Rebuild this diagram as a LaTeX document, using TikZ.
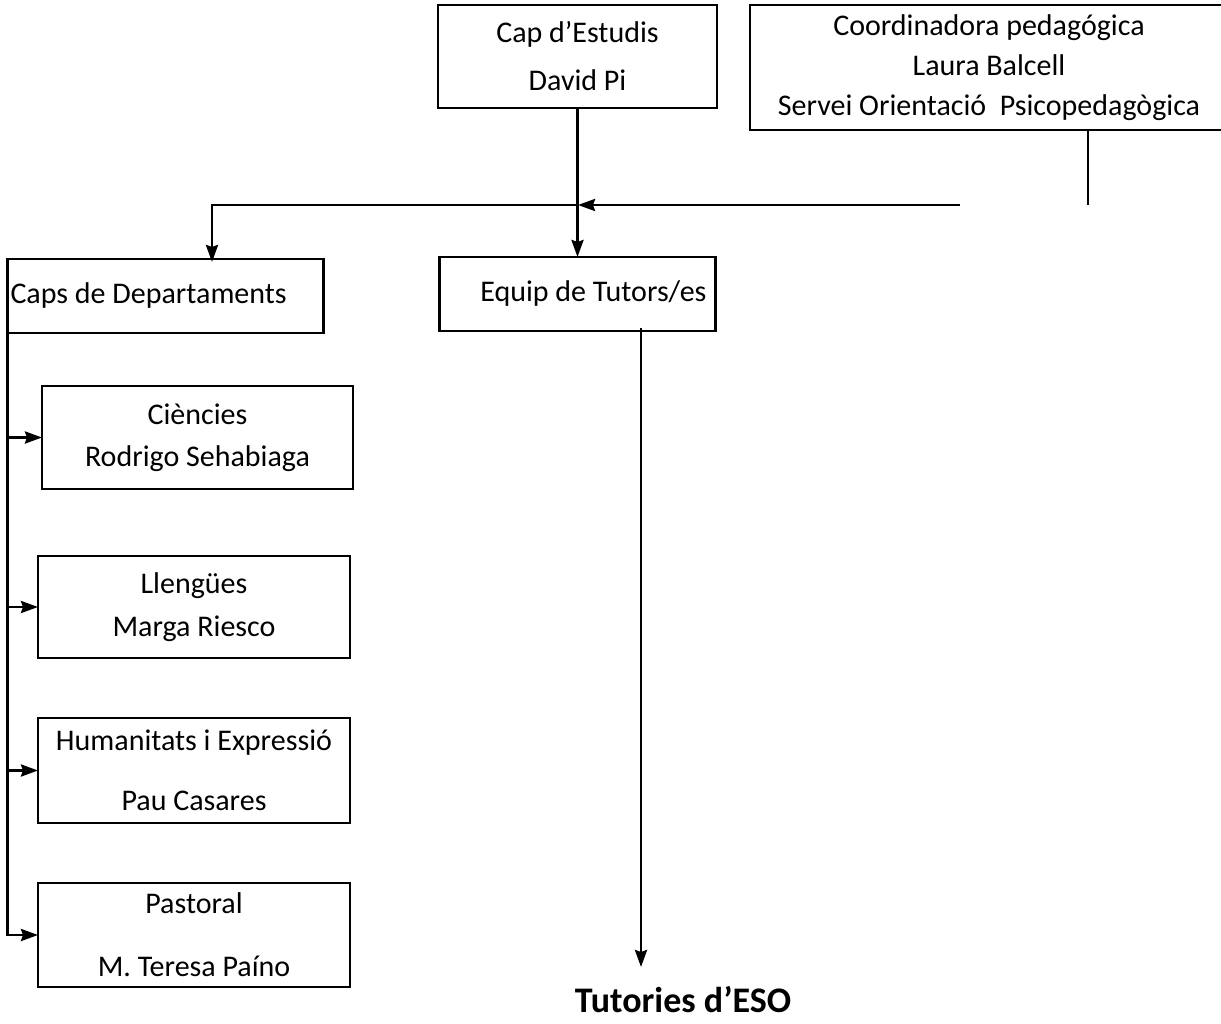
\documentclass[tikz,border=0pt]{standalone}
\usepackage{fontspec}
\setmainfont{Carlito}
\usetikzlibrary{arrows.meta,positioning}
\tikzset{
  orgbox/.style={rectangle, draw=black, line width=2.8pt, fill=white, align=center,
                 inner sep=0pt, outer sep=0pt, font=\fontsize{30}{40}\selectfont},
  link/.style={draw=black, line width=2.8pt},
  flow/.style={link, -{Stealth[length=17pt, width=12pt, inset=2pt]}},
  titlelbl/.style={inner sep=0pt, font=\fontsize{36}{43}\selectfont\bfseries}
}
\begin{document}
\begin{tikzpicture}[x=1pt, y=-1pt, node distance=60pt]
 \useasboundingbox (0,0) rectangle (1221,1024);
 \node[orgbox, minimum width=279pt, minimum height=103pt] (capest) at (577.5,56.5) {Cap d’Estudis\\[8pt]David Pi};
 \node[orgbox, minimum width=478pt, minimum height=125pt] (coord) at (989,67.5) {Coordinadora pedagógica\\Laura Balcell\\Servei Orientació\ \ Psicopedagògica};
 \node[orgbox, below=149pt of capest, minimum width=276pt, minimum height=74pt, text width=258pt, align=flush right] (equip) {Equip de Tutors/es};
 \node[orgbox, minimum width=316pt, minimum height=74pt, text width=310pt, align=flush left] (capsdep) at (165.5,296) {Caps de Departaments};
 \node[orgbox, minimum width=311pt, minimum height=103pt] (cien) at (197.5,437.5) {Ciències\\[2pt]Rodrigo Sehabiaga};
 \node[orgbox, below=67pt of cien, xshift=-3.5pt, minimum width=312pt, minimum height=102pt] (llen) {Llengües\\[3pt]Marga Riesco};
 \node[orgbox, below=of llen, minimum width=312pt, minimum height=105pt] (human) {Humanitats i Expressió\\[20pt]Pau Casares};
 \node[orgbox, below=of human, minimum width=312pt, minimum height=104pt] (pastoral) {Pastoral\\[23pt]M. Teresa Paíno};
 \node[titlelbl] (tutories) at (683,1000) {Tutories d’ESO};
 % connectors
 \coordinate (split) at (578,205);
 \coordinate (feed) at (960,205);
 \coordinate (bend) at (212,205);
 \coordinate (drop) at (1088,205);
 \coordinate (tip) at (641,967);
 \draw[link] (drop |- coord.south) -- (drop);
 \draw[flow] (feed) -- (split);
 \draw[flow] (capest.south) -- (capest.south |- equip.north);
 \draw[flow] (split) -- (bend) -- ([yshift=-3pt]bend |- capsdep.north);
 \draw[flow] ([yshift=3pt]equip.south -| tip) -- (tip);
 \draw[link] (capsdep.south west) -- (capsdep.south west |- pastoral.west);
 \draw[flow] (capsdep.south west |- cien.west) -- (cien.west);
 \draw[flow] (capsdep.south west |- llen.west) -- (llen.west);
 \draw[flow] (capsdep.south west |- human.west) -- (human.west);
 \draw[flow] (capsdep.south west) |- (pastoral.west);
\end{tikzpicture}
\end{document}
